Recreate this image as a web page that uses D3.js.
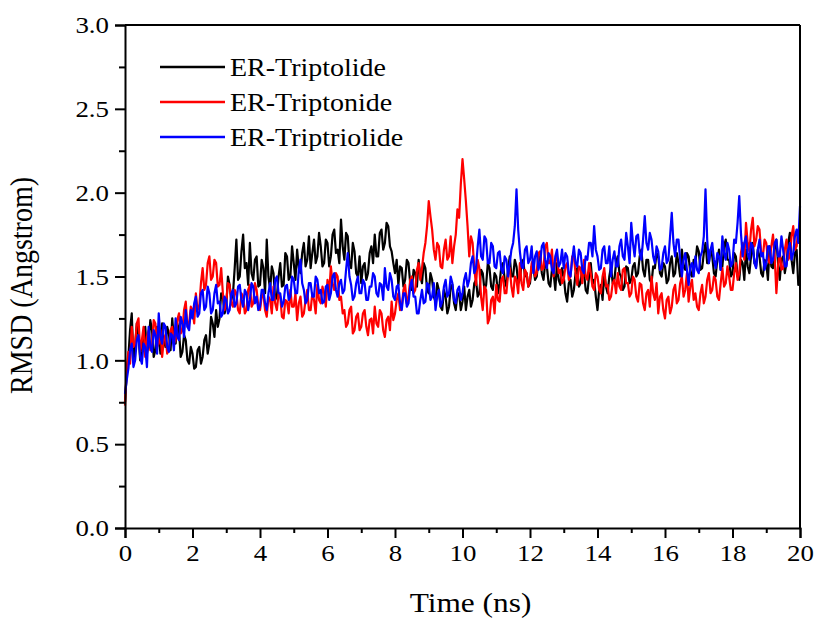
<!DOCTYPE html>
<html lang="en">
<head>
    <meta charset="UTF-8">
    <title>RMSD</title>
    <script src="https://d3js.org/d3.v7.min.js"></script>
    <style>
        body { margin: 0; background: #fff; }
        text { font-family: "Liberation Serif", "Times New Roman", serif; }
    </style>
</head>
<body>
<svg width="818" height="623"></svg>

<script>
    // RMSD samples every 0.05 ns, 0 .. 20 ns (one row = 1 ns)
    const triptolide = [
        0.75, 0.92, 1.02, 1.18, 1.28, 1.00, 1.08, 1.22, 1.15, 1.00, 1.05, 1.16, 1.20, 1.04, 1.10, 1.24, 1.18, 1.02, 1.06, 1.20,
        1.14, 1.04, 1.22, 1.12, 1.08, 1.20, 1.16, 1.06, 1.25, 1.12, 1.10, 1.22, 1.18, 1.02, 1.05, 1.15, 1.12, 1.00, 0.98, 1.08,
        1.04, 0.95, 0.96, 1.06, 1.08, 0.98, 1.02, 1.12, 1.15, 1.04, 1.10, 1.26, 1.22, 1.14, 1.30, 1.20, 1.25, 1.40, 1.38, 1.28,
        1.32, 1.50, 1.45, 1.36, 1.40, 1.55, 1.72, 1.48, 1.50, 1.65, 1.75, 1.55, 1.58, 1.45, 1.70, 1.52, 1.48, 1.60, 1.62, 1.44,
        1.45, 1.60, 1.55, 1.40, 1.72, 1.50, 1.42, 1.56, 1.52, 1.36, 1.38, 1.50, 1.58, 1.44, 1.45, 1.64, 1.62, 1.48, 1.50, 1.68,
        1.58, 1.48, 1.66, 1.55, 1.52, 1.64, 1.70, 1.56, 1.60, 1.74, 1.55, 1.64, 1.72, 1.58, 1.62, 1.76, 1.68, 1.56, 1.58, 1.72,
        1.70, 1.56, 1.62, 1.75, 1.78, 1.64, 1.66, 1.58, 1.84, 1.68, 1.60, 1.76, 1.74, 1.58, 1.55, 1.70, 1.65, 1.52, 1.50, 1.62,
        1.46, 1.56, 1.58, 1.48, 1.52, 1.64, 1.68, 1.58, 1.75, 1.62, 1.62, 1.76, 1.78, 1.66, 1.70, 1.82, 1.80, 1.68, 1.65, 1.58,
        1.52, 1.60, 1.45, 1.56, 1.55, 1.44, 1.48, 1.60, 1.58, 1.46, 1.42, 1.54, 1.52, 1.44, 1.60, 1.50, 1.46, 1.58, 1.55, 1.42,
        1.40, 1.52, 1.48, 1.38, 1.35, 1.46, 1.42, 1.32, 1.30, 1.42, 1.38, 1.28, 1.32, 1.44, 1.45, 1.34, 1.30, 1.40, 1.40, 1.30,
        1.35, 1.44, 1.30, 1.38, 1.42, 1.32, 1.36, 1.46, 1.48, 1.38, 1.40, 1.54, 1.52, 1.42, 1.45, 1.58, 1.55, 1.44, 1.42, 1.52,
        1.50, 1.40, 1.46, 1.56, 1.58, 1.48, 1.44, 1.54, 1.62, 1.50, 1.50, 1.60, 1.56, 1.46, 1.48, 1.58, 1.60, 1.50, 1.52, 1.44,
        1.46, 1.56, 1.55, 1.48, 1.50, 1.60, 1.62, 1.52, 1.48, 1.58, 1.56, 1.46, 1.44, 1.54, 1.52, 1.42, 1.58, 1.48, 1.45, 1.55,
        1.50, 1.40, 1.35, 1.46, 1.48, 1.38, 1.42, 1.52, 1.55, 1.44, 1.46, 1.56, 1.52, 1.42, 1.40, 1.50, 1.58, 1.46, 1.48, 1.38,
        1.30, 1.42, 1.45, 1.36, 1.52, 1.44, 1.40, 1.50, 1.56, 1.46, 1.48, 1.58, 1.62, 1.52, 1.50, 1.42, 1.44, 1.56, 1.55, 1.46,
        1.48, 1.56, 1.58, 1.50, 1.52, 1.62, 1.66, 1.54, 1.50, 1.60, 1.60, 1.48, 1.46, 1.56, 1.55, 1.64, 1.62, 1.52, 1.50, 1.58,
        1.56, 1.46, 1.48, 1.58, 1.62, 1.50, 1.52, 1.64, 1.58, 1.50, 1.66, 1.56, 1.54, 1.64, 1.62, 1.52, 1.50, 1.60, 1.58, 1.68,
        1.65, 1.54, 1.55, 1.64, 1.70, 1.58, 1.58, 1.66, 1.62, 1.52, 1.50, 1.60, 1.66, 1.54, 1.56, 1.68, 1.72, 1.60, 1.60, 1.50,
        1.52, 1.64, 1.62, 1.50, 1.48, 1.60, 1.58, 1.48, 1.66, 1.56, 1.52, 1.62, 1.70, 1.58, 1.56, 1.66, 1.62, 1.52, 1.50, 1.60,
        1.58, 1.48, 1.68, 1.56, 1.55, 1.66, 1.72, 1.58, 1.48, 1.60, 1.62, 1.52, 1.58, 1.70, 1.76, 1.60, 1.52, 1.64, 1.66, 1.45,
        1.48
    ];
    const triptonide = [
        0.73, 0.95, 1.05, 0.98, 1.20, 1.08, 1.10, 1.22, 1.25, 1.05, 1.12, 1.20, 1.02, 1.14, 1.18, 1.06, 1.08, 1.24, 1.22, 1.08,
        1.10, 1.18, 1.02, 1.12, 1.15, 1.04, 1.06, 1.18, 1.20, 1.10, 1.12, 1.24, 1.28, 1.16, 1.18, 1.30, 1.35, 1.20, 1.22, 1.32,
        1.30, 1.22, 1.40, 1.30, 1.32, 1.46, 1.55, 1.42, 1.45, 1.58, 1.62, 1.48, 1.50, 1.60, 1.58, 1.44, 1.45, 1.55, 1.40, 1.30,
        1.35, 1.46, 1.45, 1.34, 1.32, 1.42, 1.40, 1.30, 1.28, 1.40, 1.38, 1.28, 1.30, 1.42, 1.45, 1.32, 1.34, 1.46, 1.42, 1.32,
        1.30, 1.38, 1.40, 1.30, 1.26, 1.38, 1.36, 1.28, 1.44, 1.34, 1.30, 1.40, 1.38, 1.26, 1.25, 1.36, 1.35, 1.28, 1.42, 1.32,
        1.32, 1.40, 1.24, 1.34, 1.38, 1.26, 1.28, 1.36, 1.42, 1.30, 1.30, 1.40, 1.36, 1.28, 1.45, 1.36, 1.34, 1.44, 1.40, 1.32,
        1.48, 1.40, 1.56, 1.46, 1.42, 1.52, 1.50, 1.36, 1.38, 1.28, 1.30, 1.20, 1.22, 1.30, 1.32, 1.16, 1.18, 1.26, 1.28, 1.18,
        1.20, 1.28, 1.30, 1.20, 1.15, 1.24, 1.25, 1.16, 1.32, 1.22, 1.20, 1.30, 1.28, 1.18, 1.14, 1.24, 1.26, 1.18, 1.35, 1.24,
        1.28, 1.36, 1.40, 1.30, 1.32, 1.42, 1.45, 1.34, 1.38, 1.48, 1.50, 1.40, 1.42, 1.54, 1.58, 1.48, 1.55, 1.64, 1.70, 1.80,
        1.95, 1.86, 1.78, 1.66, 1.60, 1.70, 1.68, 1.56, 1.55, 1.66, 1.72, 1.60, 1.62, 1.74, 1.58, 1.68, 1.75, 1.90, 1.85, 2.05,
        2.20, 2.08, 1.95, 1.80, 1.62, 1.74, 1.70, 1.55, 1.45, 1.60, 1.55, 1.38, 1.30, 1.44, 1.42, 1.22, 1.25, 1.36, 1.38, 1.28,
        1.45, 1.36, 1.35, 1.48, 1.50, 1.40, 1.40, 1.52, 1.55, 1.44, 1.38, 1.50, 1.48, 1.40, 1.58, 1.46, 1.42, 1.54, 1.52, 1.44,
        1.48, 1.58, 1.60, 1.50, 1.52, 1.64, 1.65, 1.54, 1.55, 1.68, 1.70, 1.58, 1.58, 1.66, 1.50, 1.60, 1.62, 1.52, 1.54, 1.46,
        1.48, 1.56, 1.58, 1.48, 1.50, 1.62, 1.62, 1.52, 1.45, 1.56, 1.55, 1.46, 1.60, 1.50, 1.48, 1.58, 1.52, 1.44, 1.42, 1.52,
        1.50, 1.42, 1.40, 1.50, 1.55, 1.44, 1.45, 1.36, 1.38, 1.46, 1.48, 1.40, 1.52, 1.44, 1.42, 1.54, 1.55, 1.46, 1.46, 1.38,
        1.40, 1.50, 1.48, 1.38, 1.35, 1.46, 1.45, 1.34, 1.30, 1.40, 1.42, 1.32, 1.50, 1.40, 1.36, 1.46, 1.28, 1.38, 1.40, 1.30,
        1.25, 1.36, 1.38, 1.28, 1.32, 1.42, 1.45, 1.34, 1.36, 1.46, 1.50, 1.38, 1.42, 1.52, 1.35, 1.44, 1.48, 1.36, 1.40, 1.32,
        1.30, 1.40, 1.45, 1.34, 1.38, 1.48, 1.52, 1.40, 1.42, 1.50, 1.48, 1.38, 1.36, 1.46, 1.55, 1.44, 1.46, 1.56, 1.50, 1.42,
        1.42, 1.52, 1.58, 1.48, 1.52, 1.64, 1.70, 1.60, 1.82, 1.70, 1.65, 1.78, 1.85, 1.68, 1.72, 1.80, 1.78, 1.64, 1.62, 1.72,
        1.70, 1.60, 1.58, 1.68, 1.75, 1.62, 1.40, 1.56, 1.65, 1.54, 1.55, 1.66, 1.72, 1.60, 1.62, 1.74, 1.80, 1.66, 1.68, 1.78,
        1.75
    ];
    const triptriolide = [
        0.80, 0.88, 0.95, 1.06, 1.10, 0.96, 1.00, 1.12, 1.15, 1.02, 0.98, 1.10, 1.08, 0.96, 1.20, 1.08, 1.05, 1.18, 1.15, 1.04,
        1.28, 1.14, 1.10, 1.22, 1.20, 1.08, 1.05, 1.16, 1.15, 1.06, 1.25, 1.14, 1.12, 1.26, 1.22, 1.14, 1.30, 1.20, 1.18, 1.30,
        1.25, 1.34, 1.38, 1.26, 1.28, 1.40, 1.42, 1.30, 1.32, 1.44, 1.40, 1.28, 1.30, 1.40, 1.45, 1.34, 1.35, 1.26, 1.28, 1.38,
        1.36, 1.28, 1.30, 1.40, 1.42, 1.32, 1.34, 1.44, 1.45, 1.36, 1.32, 1.42, 1.40, 1.30, 1.36, 1.46, 1.44, 1.34, 1.38, 1.30,
        1.32, 1.42, 1.42, 1.34, 1.30, 1.40, 1.46, 1.36, 1.36, 1.48, 1.50, 1.40, 1.40, 1.32, 1.35, 1.44, 1.45, 1.36, 1.38, 1.50,
        1.48, 1.40, 1.40, 1.54, 1.60, 1.46, 1.42, 1.34, 1.36, 1.46, 1.46, 1.38, 1.38, 1.50, 1.48, 1.40, 1.42, 1.34, 1.35, 1.44,
        1.45, 1.36, 1.40, 1.50, 1.52, 1.42, 1.38, 1.46, 1.48, 1.40, 1.42, 1.54, 1.64, 1.50, 1.45, 1.36, 1.38, 1.46, 1.50, 1.40,
        1.40, 1.48, 1.46, 1.36, 1.36, 1.44, 1.44, 1.52, 1.50, 1.40, 1.38, 1.46, 1.45, 1.36, 1.55, 1.44, 1.42, 1.52, 1.48, 1.38,
        1.36, 1.44, 1.45, 1.34, 1.30, 1.40, 1.40, 1.32, 1.34, 1.44, 1.48, 1.38, 1.38, 1.28, 1.28, 1.36, 1.42, 1.34, 1.35, 1.46,
        1.45, 1.36, 1.38, 1.46, 1.30, 1.38, 1.42, 1.32, 1.35, 1.44, 1.48, 1.38, 1.40, 1.50, 1.46, 1.36, 1.34, 1.42, 1.44, 1.36,
        1.40, 1.48, 1.52, 1.44, 1.48, 1.58, 1.62, 1.52, 1.55, 1.68, 1.78, 1.62, 1.60, 1.74, 1.72, 1.58, 1.58, 1.70, 1.68, 1.56,
        1.55, 1.64, 1.65, 1.54, 1.52, 1.62, 1.60, 1.50, 1.58, 1.66, 1.70, 1.80, 2.02, 1.78, 1.65, 1.56, 1.55, 1.66, 1.68, 1.58,
        1.60, 1.68, 1.52, 1.62, 1.65, 1.54, 1.58, 1.68, 1.70, 1.60, 1.55, 1.64, 1.62, 1.54, 1.52, 1.62, 1.66, 1.56, 1.58, 1.66,
        1.55, 1.64, 1.62, 1.52, 1.50, 1.60, 1.68, 1.58, 1.56, 1.66, 1.64, 1.54, 1.52, 1.62, 1.60, 1.70, 1.70, 1.62, 1.80, 1.66,
        1.62, 1.54, 1.55, 1.66, 1.68, 1.58, 1.58, 1.68, 1.50, 1.60, 1.65, 1.56, 1.56, 1.68, 1.72, 1.62, 1.60, 1.76, 1.68, 1.58,
        1.82, 1.70, 1.62, 1.74, 1.75, 1.64, 1.60, 1.72, 1.86, 1.70, 1.66, 1.76, 1.72, 1.62, 1.58, 1.68, 1.65, 1.54, 1.55, 1.64,
        1.68, 1.58, 1.60, 1.74, 1.88, 1.70, 1.62, 1.72, 1.72, 1.60, 1.50, 1.60, 1.64, 1.54, 1.45, 1.56, 1.58, 1.50, 1.62, 1.54,
        1.52, 1.62, 1.65, 1.74, 2.02, 1.72, 1.58, 1.66, 1.70, 1.60, 1.55, 1.64, 1.62, 1.54, 1.74, 1.64, 1.60, 1.70, 1.66, 1.56,
        1.58, 1.72, 1.70, 1.82, 1.98, 1.76, 1.62, 1.70, 1.74, 1.64, 1.60, 1.70, 1.68, 1.58, 1.55, 1.66, 1.72, 1.62, 1.64, 1.54,
        1.58, 1.68, 1.68, 1.58, 1.60, 1.70, 1.72, 1.62, 1.62, 1.74, 1.66, 1.56, 1.56, 1.66, 1.70, 1.60, 1.64, 1.74, 1.78, 1.70,
        1.92
    ];
    const seriesNames = ["ER-Triptolide", "ER-Triptonide", "ER-Triptriolide"];
    const seriesColors = ["#000000", "#ff0000", "#0000ff"];
    const xTicks = [0, 2, 4, 6, 8, 10, 12, 14, 16, 18, 20];
    const yTicks = [0.0, 0.5, 1.0, 1.5, 2.0, 2.5, 3.0];
    const dt = 0.05;
    const stretch = 1.12; // the original figure is a bit wider than tall

    const margin = {top: 25, right: 18, bottom: 95, left: 125},
        width = 818 - margin.left - margin.right,
        height = 623 - margin.top - margin.bottom;

    const svg = d3.select("svg")
        .append("g")
        .attr("transform", `translate(${margin.left},${margin.top})`);

    const x = d3.scaleLinear().domain([0, 20]).range([0, width]);
    const y = d3.scaleLinear().domain([0, 3]).range([height, 0]);

    const line = d3.line()
        .x((d, i) => x(i * dt))
        .y(d => y(d));

    [triptolide, triptonide, triptriolide].forEach((s, k) => {
        svg.append("path")
            .datum(s)
            .attr("fill", "none")
            .attr("stroke", seriesColors[k])
            .attr("stroke-width", 2.2)
            .attr("stroke-linejoin", "round")
            .attr("d", line);
    });

    // minor ticks
    svg.append("g")
        .attr("transform", `translate(0,${height})`)
        .call(d3.axisBottom(x).tickValues(d3.range(1, 20, 2)).tickSize(5).tickFormat(""))
        .call(g => g.select(".domain").remove());
    svg.append("g")
        .call(d3.axisLeft(y).tickValues(d3.range(0.25, 3, 0.5)).tickSize(6).tickFormat(""))
        .call(g => g.select(".domain").remove());

    const xAxis = svg.append("g")
        .attr("transform", `translate(0,${height})`)
        .call(d3.axisBottom(x).tickValues(xTicks).tickSize(10).tickPadding(6).tickFormat(d3.format("d")));
    const yAxis = svg.append("g")
        .call(d3.axisLeft(y).tickValues(yTicks).tickSize(10).tickPadding(6).tickFormat(d3.format(".1f")));

    svg.selectAll(".tick line").attr("stroke-width", 2);
    svg.selectAll(".domain").attr("stroke-width", 2);
    [xAxis, yAxis].forEach(ax => {
        ax.selectAll("text")
            .attr("font-size", 24).attr("fill", "#000")
            .style("font-family", "Liberation Serif")
            .attr("transform", function() {
                const x0 = +this.getAttribute("x") || 0;
                return `translate(${x0},0) scale(${stretch},1) translate(${-x0},0)`;
            });
    });

    // frame top / right
    svg.append("line").attr("x1", 0).attr("x2", width).attr("y1", 0).attr("y2", 0)
        .attr("stroke", "#000").attr("stroke-width", 2);
    svg.append("line").attr("x1", width).attr("x2", width).attr("y1", 0).attr("y2", height)
        .attr("stroke", "#000").attr("stroke-width", 2);

    svg.append("text")
        .attr("transform", `translate(${width / 2 + 8},${height + 84}) scale(${stretch},1)`)
        .attr("text-anchor", "middle")
        .attr("font-size", 28)
        .text("Time (ns)");
    svg.append("text")
        .attr("transform", `translate(-93,${height / 2 + 9}) rotate(-90) scale(1,${stretch})`)
        .attr("text-anchor", "middle")
        .attr("font-size", 28)
        .text("RMSD (Angstrom)");

    const legend = svg.append("g").attr("transform", "translate(35,42)");
    seriesNames.forEach((name, k) => {
        const row = legend.append("g").attr("transform", `translate(0,${k * 35})`);
        row.append("line").attr("x1", 0).attr("x2", 65)
            .attr("stroke", seriesColors[k]).attr("stroke-width", 2.5);
        row.append("text")
            .attr("transform", `translate(70,0) scale(${stretch},1)`)
            .attr("dy", "0.35em")
            .attr("font-size", 25).text(name);
    });
</script>
</body>
</html>
